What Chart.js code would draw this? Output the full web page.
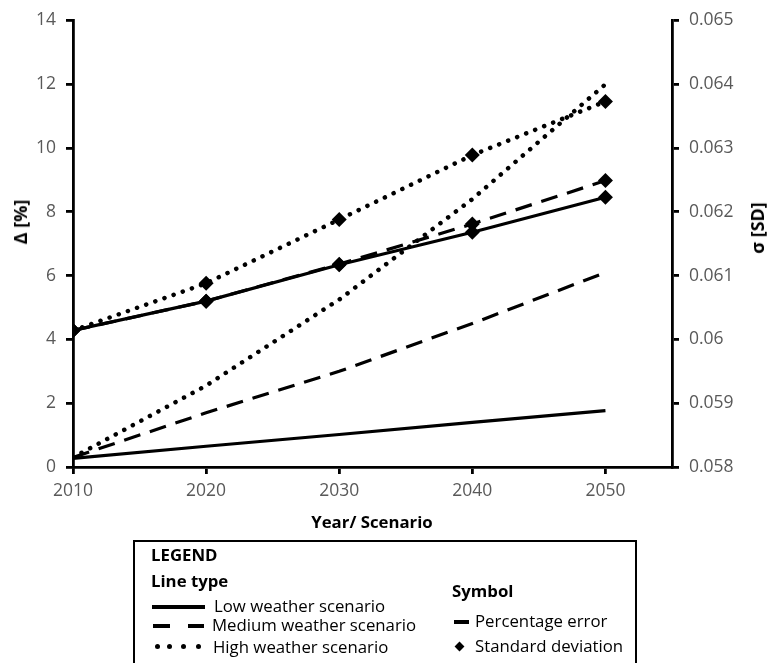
<!DOCTYPE html>
<html>
<head>
<meta charset="utf-8">
<script src="https://cdn.jsdelivr.net/npm/chart.js@4"></script>
<style>
  html, body { margin: 0; padding: 0; background: #fff; }
  #wrap { position: relative; width: 771px; height: 663px; overflow: hidden; font-family: "Open Sans", sans-serif; }
  canvas { position: absolute; left: 0; top: 0; }
  .t { position: absolute; white-space: nowrap; line-height: 20px; font-size: 16.8px; color: #000; }
  .b { font-weight: bold; }
  .rot { position: absolute; white-space: nowrap; font-weight: bold; font-size: 18px; color: #000; transform: translate(-50%, -50%) rotate(-90deg); }
  #box { position: absolute; left: 133px; top: 540px; width: 500px; height: 130px; border: 2.5px solid #000; }
  .ln { position: absolute; background: #000; }
  .dot { position: absolute; width: 5px; height: 5px; border-radius: 50%; background: #000; }
  .dia { position: absolute; width: 7px; height: 7px; background: #000; transform: rotate(45deg); }
</style>
</head>
<body>
<div id="wrap">
  <canvas id="c" width="771" height="663"></canvas>
  <div class="rot" style="left:20px; top:222px;">Δ [%]</div>
  <div class="rot" style="left:757px; top:228px;">σ [SD]</div>
  <div class="t b" style="left:372px; top:512px; transform:translateX(-50%);">Year/ Scenario</div>
  <div id="box"></div>
  <div class="t b" style="left:151px; top:545px;">LEGEND</div>
  <div class="t b" style="left:151px; top:571px;">Line type</div>
  <div class="ln" style="left:152px; top:605px; width:53px; height:3.5px;"></div>
  <div class="t" style="left:214px; top:596px;">Low weather scenario</div>
  <div class="ln" style="left:153px; top:624px; width:17px; height:3.5px;"></div>
  <div class="ln" style="left:188px; top:624px; width:16px; height:3.5px;"></div>
  <div class="t" style="left:212px; top:615px;">Medium weather scenario</div>
  <div class="dot" style="left:155px; top:644px;"></div>
  <div class="dot" style="left:167px; top:644px;"></div>
  <div class="dot" style="left:181px; top:644px;"></div>
  <div class="dot" style="left:196px; top:644px;"></div>
  <div class="t" style="left:213px; top:637px;">High weather scenario</div>
  <div class="t b" style="left:452px; top:581px;">Symbol</div>
  <div class="ln" style="left:454px; top:620px; width:15px; height:4px;"></div>
  <div class="t" style="left:475px; top:611px;">Percentage error</div>
  <div class="dia" style="left:456px; top:643px;"></div>
  <div class="t" style="left:475px; top:636px;">Standard deviation</div>
</div>
<script>
// ---- data ----
const years = [2010, 2020, 2030, 2040, 2050];
const xTicks = [2010, 2020, 2030, 2040, 2050];
const leftTicks = [0, 2, 4, 6, 8, 10, 12, 14];
const rightTicks = [0.058, 0.059, 0.06, 0.061, 0.062, 0.063, 0.064, 0.065];
// Percentage error (left axis, %)
const peLow    = [0.27, 0.65, 1.02, 1.40, 1.77];
const peMedium = [0.30, 1.70, 3.00, 4.50, 6.10];
const peHigh   = [0.30, 2.55, 5.25, 8.40, 12.00];
// Standard deviation (right axis)
const sdLow    = [0.06014, 0.06060, 0.06117, 0.06168, 0.06223];
const sdMedium = [0.06014, 0.06060, 0.06118, 0.06181, 0.06249];
const sdHigh   = [0.06014, 0.06088, 0.06188, 0.06289, 0.06373];

const pts = arr => arr.map((v, i) => ({ x: years[i], y: v }));
const SOLID = [], DASH = [17, 10], DOT = [0.1, 9.6];

function peSet(label, arr, dash) {
  const dotted = dash === DOT;
  return {
    label, data: pts(arr), yAxisID: 'y',
    borderColor: '#000', borderWidth: dotted ? 4.5 : 3.2,
    borderDash: dash, borderCapStyle: dotted ? 'round' : 'butt',
    pointRadius: 0, fill: false, tension: 0
  };
}
function sdSet(label, arr, dash) {
  const dotted = dash === DOT;
  return {
    label, data: pts(arr), yAxisID: 'y1',
    borderColor: '#000', borderWidth: dotted ? 4.5 : 3.2,
    borderDash: dash, borderCapStyle: dotted ? 'round' : 'butt',
    pointStyle: 'rectRot', pointRadius: 7.5, pointBackgroundColor: '#000',
    pointBorderColor: '#000', pointBorderWidth: 0, fill: false, tension: 0
  };
}

const tickFont = { family: '"Open Sans", sans-serif', size: 17.5 };
const tickColor = '#595959';
const axisGrid = { display: true, drawOnChartArea: false, drawTicks: true, tickLength: 7, color: '#000', lineWidth: 2.8 };
const axisBorder = { display: true, color: '#000', width: 2.8 };

new Chart(document.getElementById('c'), {
  type: 'line',
  data: {
    datasets: [
      peSet('Low – percentage error', peLow, SOLID),
      peSet('Medium – percentage error', peMedium, DASH),
      peSet('High – percentage error', peHigh, DOT),
      sdSet('Low – standard deviation', sdLow, SOLID),
      sdSet('Medium – standard deviation', sdMedium, DASH),
      sdSet('High – standard deviation', sdHigh, DOT)
    ]
  },
  options: {
    responsive: false,
    animation: false,
    layout: { padding: { top: 16, left: 0, right: 0, bottom: 0 } },
    plugins: { legend: { display: false }, tooltip: { enabled: false } },
    scales: {
      x: {
        type: 'linear', min: 2010, max: 2055,
        grid: axisGrid, border: axisBorder,
        afterBuildTicks: s => { s.ticks = xTicks.map(v => ({ value: v })); },
        ticks: { font: tickFont, color: tickColor, padding: 7, maxRotation: 0, callback: v => String(v) },
        afterFit: s => { s.height = 196; }
      },
      y: {
        position: 'left', min: 0, max: 14,
        grid: axisGrid, border: axisBorder,
        afterBuildTicks: s => { s.ticks = leftTicks.map(v => ({ value: v })); },
        ticks: { font: tickFont, color: tickColor, padding: 10, callback: v => String(v) },
        afterFit: s => { s.width = 73; }
      },
      y1: {
        position: 'right', min: 0.058, max: 0.065,
        grid: axisGrid, border: axisBorder,
        afterBuildTicks: s => { s.ticks = rightTicks.map(v => ({ value: v })); },
        ticks: { font: tickFont, color: tickColor, padding: 10, callback: v => String(Number(v.toFixed(3))) },
        afterFit: s => { s.width = 99; }
      }
    }
  }
});
</script>
</body>
</html>
